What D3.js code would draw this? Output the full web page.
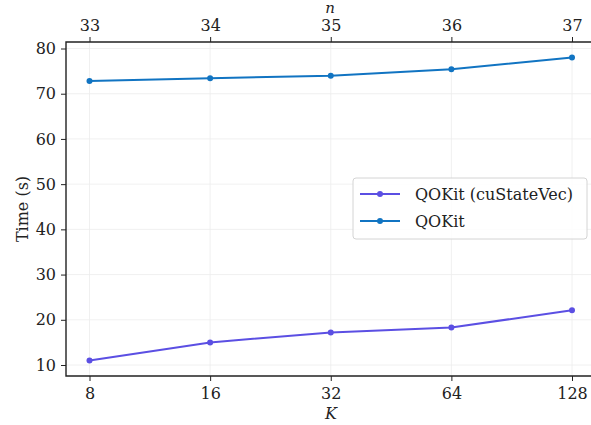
<html>
  <meta charset="utf-8" />
  <script src="https://d3js.org/d3.v7.min.js"></script>
  <style>
    body { margin: 0; background: #fff; }
  </style>
  <body>
    <svg width="591" height="425" id="chart"></svg>
    <script>
      const kLabels = ["8", "16", "32", "64", "128"];
      const nLabels = ["33", "34", "35", "36", "37"];
      const cuStateVec = [11.0, 15.0, 17.2, 18.3, 22.1];
      const qokit = [72.8, 73.4, 74.0, 75.4, 78.0];
      const yTicks = [10, 20, 30, 40, 50, 60, 70, 80];

      const series = [
        { name: "QOKit (cuStateVec)", values: cuStateVec, color: "#5b4fe3" },
        { name: "QOKit", values: qokit, color: "#1174c2" }
      ];

      const FONT = "'DejaVu Serif', serif";
      const FS = 16;
      const plotL = 66, plotR = 593, plotT = 42, plotB = 376;
      const svg = d3.select("#chart")
        .attr("font-family", FONT);

      const x = d3.scalePoint().domain(d3.range(kLabels.length)).range([89.5, 572]);
      const y = d3.scaleLinear().domain([10, 80]).range([365, 48.5]);

      // grid
      svg.append("g")
        .selectAll("line")
        .data(d3.range(kLabels.length))
        .join("line")
        .attr("x1", (d) => x(d)).attr("x2", (d) => x(d))
        .attr("y1", plotT).attr("y2", plotB)
        .attr("stroke", "#ececec").attr("stroke-width", 0.8);
      svg.append("g")
        .selectAll("line")
        .data(yTicks)
        .join("line")
        .attr("x1", plotL).attr("x2", plotR)
        .attr("y1", (d) => y(d)).attr("y2", (d) => y(d))
        .attr("stroke", "#ececec").attr("stroke-width", 0.8);

      // axes
      const bottomAxis = svg.append("g")
        .attr("transform", `translate(0, ${plotB})`)
        .call(d3.axisBottom(x).tickFormat((i) => kLabels[i]).tickSize(5).tickPadding(7));
      const topAxis = svg.append("g")
        .attr("transform", `translate(0, ${plotT})`)
        .call(d3.axisTop(x).tickFormat((i) => nLabels[i]).tickSize(5).tickPadding(6));
      const leftAxis = svg.append("g")
        .attr("transform", `translate(${plotL}, 0)`)
        .call(d3.axisLeft(y).tickValues(yTicks).tickSize(5).tickPadding(5));

      [bottomAxis, topAxis, leftAxis].forEach((g) => {
        g.attr("font-family", FONT).attr("font-size", FS);
        g.select(".domain").remove();
        g.selectAll(".tick line").attr("stroke", "#222").attr("stroke-width", 1);
        g.selectAll(".tick text").attr("fill", "#222");
      });

      // spines
      svg.append("path")
        .attr("d", `M${plotR},${plotT}H${plotL}V${plotB}H${plotR}`)
        .attr("fill", "none").attr("stroke", "#222").attr("stroke-width", 1.4);

      // lines
      const line = d3.line().x((d, i) => x(i)).y((d) => y(d));
      series.forEach((s) => {
        svg.append("path")
          .datum(s.values)
          .attr("d", line)
          .attr("fill", "none")
          .attr("stroke", s.color)
          .attr("stroke-width", 2);
        svg.append("g")
          .selectAll("circle")
          .data(s.values)
          .join("circle")
          .attr("cx", (d, i) => x(i))
          .attr("cy", (d) => y(d))
          .attr("r", 3)
          .attr("fill", s.color);
      });

      // labels
      svg.append("text")
        .attr("transform", "translate(28, 209) rotate(-90)")
        .attr("text-anchor", "middle")
        .attr("font-size", FS).attr("fill", "#222")
        .text("Time (s)");
      svg.append("text")
        .attr("x", 331).attr("y", 419)
        .attr("text-anchor", "middle")
        .attr("font-size", FS).attr("font-style", "italic").attr("fill", "#222")
        .text("K");
      svg.append("text")
        .attr("x", 330).attr("y", 13)
        .attr("text-anchor", "middle")
        .attr("font-size", 15).attr("font-style", "italic").attr("fill", "#222")
        .text("n");

      // legend
      const legend = svg.append("g").attr("transform", "translate(353, 178)");
      legend.append("rect")
        .attr("width", 234).attr("height", 61)
        .attr("rx", 3)
        .attr("fill", "rgba(255,255,255,0.85)")
        .attr("stroke", "#d4d4d4");
      series.forEach((s, i) => {
        const ly = 16 + i * 27;
        legend.append("line")
          .attr("x1", 7).attr("x2", 47)
          .attr("y1", ly).attr("y2", ly)
          .attr("stroke", s.color).attr("stroke-width", 2);
        legend.append("circle")
          .attr("cx", 27).attr("cy", ly).attr("r", 3)
          .attr("fill", s.color);
        legend.append("text")
          .attr("x", 62).attr("y", ly + 6)
          .attr("font-size", FS).attr("fill", "#222")
          .text(s.name);
      });
    </script>
  </body>
</html>
